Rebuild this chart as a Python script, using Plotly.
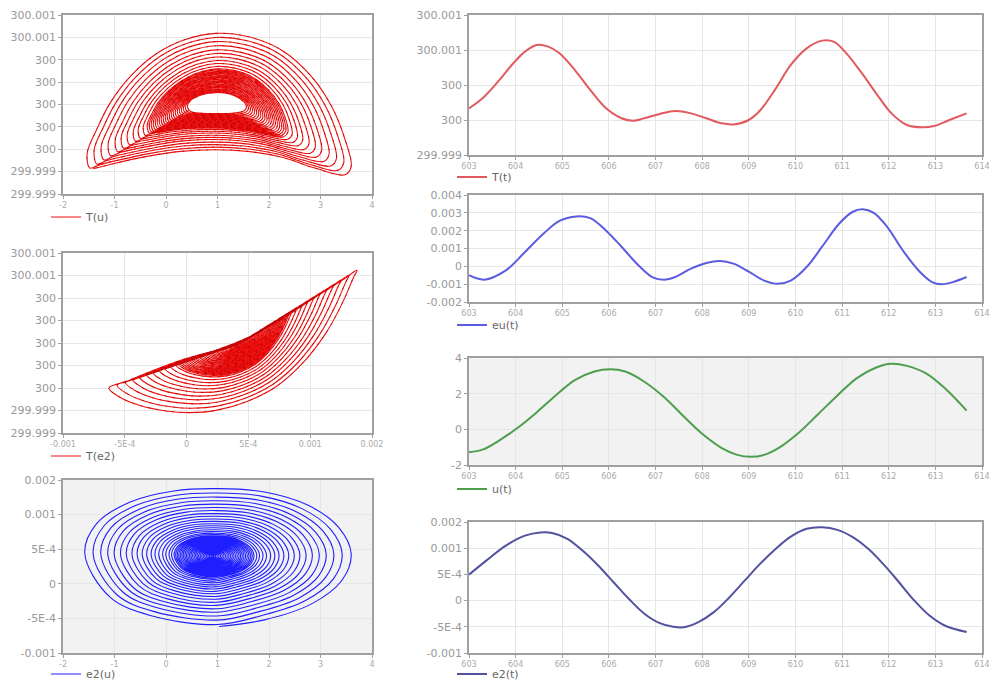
import plotly.graph_objects as go

W, H = 995, 682

# ---------------- time series ----------------
t_T = [603.0, 603.29, 603.62, 603.95, 604.2, 604.45, 604.7, 604.94, 605.27, 605.6, 605.94,
       606.27, 606.52, 606.76, 607.09, 607.42, 607.76, 608.09, 608.42, 608.67, 609.0, 609.25,
       609.58, 609.9, 610.24, 610.57, 610.82, 611.06, 611.4, 611.73, 612.06, 612.39, 612.72,
       612.97, 613.3, 613.67]
T_dev = [-0.000067, 0.000048, 0.000238, 0.000448, 0.000581, 0.000657, 0.000638, 0.000562,
         0.000371, 0.000143, -0.000067, -0.00018, -0.000208, -0.00018, -0.000131, -0.000097,
         -0.000124, -0.00018, -0.000238, -0.00025, -0.0002, -0.000086, 0.000162, 0.000429,
         0.000619, 0.000707, 0.000695, 0.000581, 0.000352, 0.000105, -0.000124, -0.000257,
         -0.000284, -0.000269, -0.0002, -0.000124]

t_eu = [603.0, 603.33, 603.79, 604.2, 604.6, 604.94, 605.3, 605.6, 605.94, 606.27, 606.6,
        606.93, 607.18, 607.42, 607.76, 608.09, 608.38, 608.67, 609.0, 609.33, 609.62, 609.9,
        610.24, 610.57, 610.94, 611.23, 611.44, 611.68, 611.97, 612.3, 612.64, 612.93, 613.13,
        613.38, 613.67]
eu = [-0.0005, -0.00075, -0.00023, 0.0008, 0.00184, 0.00255, 0.0028, 0.0027, 0.002, 0.0011,
      0.00015, -0.0006, -0.00075, -0.0006, -0.00013, 0.00019, 0.0003, 0.00015, -0.0003, -0.0008,
      -0.00098, -0.0008, -0.00004, 0.0011, 0.0024, 0.00306, 0.0032, 0.003, 0.0022, 0.0009,
      -0.00023, -0.00088, -0.001, -0.00088, -0.0006]

t_u = [603.0, 603.29, 603.62, 604.03, 604.45, 604.86, 605.27, 605.69, 606.02, 606.35, 606.76,
       607.18, 607.59, 608.0, 608.42, 608.75, 609.04, 609.33, 609.66, 610.07, 610.49, 610.9,
       611.31, 611.73, 612.06, 612.39, 612.8, 613.21, 613.67]
u = [-1.28, -1.14, -0.67, 0.06, 0.95, 1.9, 2.76, 3.24, 3.37, 3.24, 2.67, 1.81, 0.76, -0.25,
     -1.05, -1.43, -1.54, -1.43, -1.01, -0.19, 0.86, 1.9, 2.86, 3.47, 3.68, 3.56, 3.14, 2.29, 1.05]

t_e2 = [603.0, 603.37, 603.79, 604.2, 604.53, 604.78, 605.11, 605.44, 605.77, 606.1, 606.43,
        606.76, 607.09, 607.38, 607.59, 607.92, 608.25, 608.58, 608.91, 609.24, 609.58, 609.9,
        610.24, 610.57, 610.9, 611.23, 611.56, 611.89, 612.22, 612.55, 612.88, 613.21, 613.67]
e2 = [0.000496, 0.000763, 0.00105, 0.00124, 0.0013, 0.00129, 0.00118, 0.00095, 0.00067,
      0.00035, 0.00003, -0.00025, -0.00043, -0.0005, -0.00051, -0.00041, -0.00022, 0.00006,
      0.00038, 0.0007, 0.00099, 0.00122, 0.00137, 0.0014, 0.00135, 0.00121, 0.00099, 0.00069,
      0.00035, 0.0, -0.00029, -0.00048, -0.0006]

# ---------------- phase portraits ----------------
# T(u): outermost loop and innermost loop (edge of the hole), plus loop positions between them
Tu_outer_u = [-1.478, -1.53, -1.348, -1.087, -0.696, -0.174, 0.348, 0.967, 1.587, 2.239, 2.826,
              3.217, 3.478, 3.596, 3.478, 2.891, 2.239, 1.587, 0.967, 0.283, -0.37, -1.022, -1.413]
Tu_outer_T = [-0.000568, -0.000434, -0.000226, 0.000012, 0.00025, 0.000458, 0.000577, 0.000636,
              0.000607, 0.000488, 0.00025, -0.000018, -0.000315, -0.000553, -0.000628, -0.000568,
              -0.00047, -0.000419, -0.000404, -0.000419, -0.000464, -0.000529, -0.000574]
Tu_inner_u = [0.446, 0.413, 0.446, 0.511, 0.641, 0.804, 0.902, 1.0, 1.13, 1.293, 1.424, 1.522,
              1.561, 1.548, 1.489, 1.359, 1.196, 1.0, 0.804, 0.641, 0.543, 0.478, 0.452]
Tu_inner_T = [-0.0000476, -0.0000178, 0.0000178, 0.0000476, 0.0000773, 0.0000981, 0.000104,
              0.000107, 0.000104, 0.0000862, 0.0000565, 0.0000178, -0.0000178, -0.0000416,
              -0.0000625, -0.0000744, -0.0000803, -0.0000803, -0.0000803, -0.0000773, -0.0000714,
              -0.0000625, -0.0000535]
Tu_rings = [0.0, 0.02, 0.04, 0.06, 0.08, 0.10, 0.12, 0.14, 0.16, 0.18, 0.20, 0.22, 0.24, 0.26,
            0.28, 0.30, 0.32, 0.34, 0.36, 0.38, 0.40, 0.44, 0.49, 0.54, 0.60, 0.66, 0.72, 0.79,
            0.86, 0.93, 1.0]

# T(e2): outermost loop, centre and loop sizes
Te2_loop_e2 = [-0.000629, -0.000543, -0.000382, -0.000167, 0.000022, 0.000237, 0.000478, 0.00072,
               0.000935, 0.001124, 0.001258, 0.001352, 0.001379, 0.001258, 0.001043, 0.000774,
               0.000505, 0.000237, -0.000005, -0.000301, -0.000516]
Te2_loop_T = [-0.0004, -0.00048, -0.000554, -0.000604, -0.000619, -0.000599, -0.000524, -0.000391,
              -0.000184, 0.000083, 0.00035, 0.000587, 0.000646, 0.000557, 0.000409, 0.000216,
              0.000053, -0.000065, -0.000139, -0.000258, -0.000356]
Te2_center = (0.0004, -0.00002)
Te2_scales = [0.0, 0.015, 0.03, 0.045, 0.06, 0.075, 0.09, 0.105, 0.12, 0.135, 0.15, 0.165, 0.18,
              0.195, 0.21, 0.225, 0.24, 0.255, 0.27, 0.285, 0.30, 0.315, 0.33, 0.345, 0.36, 0.375,
              0.39, 0.405, 0.42, 0.435, 0.45, 0.47, 0.51, 0.555, 0.60, 0.65, 0.70, 0.755, 0.81,
              0.87, 0.935, 1.0]

# e2(u): outermost loop, centre and loop sizes; the spiral ends at e2u_end
e2u_loop_u = [1.0, -0.304, -1.087, -1.576, -1.348, -0.696, 0.152, 1.0, 1.913, 2.761, 3.348,
              3.596, 3.413, 2.826, 1.913]
e2u_loop_e2 = [-0.000589, -0.000458, -0.000193, 0.000434, 0.000869, 0.001182, 0.001342,
               0.001375, 0.001327, 0.001134, 0.00082, 0.000434, 0.000048, -0.00029, -0.000521]
e2u_end = (1.033, -0.000618)
e2u_center = (0.9, 0.0004)
e2u_scales = [0.0, 0.012, 0.024, 0.036, 0.048, 0.06, 0.072, 0.084, 0.096, 0.108, 0.12, 0.132,
              0.144, 0.156, 0.168, 0.18, 0.192, 0.204, 0.216, 0.228, 0.24, 0.252, 0.264, 0.276,
              0.288, 0.30, 0.32, 0.34, 0.365, 0.39, 0.42, 0.45, 0.48, 0.515, 0.55, 0.59,
              0.63, 0.675, 0.72, 0.77, 0.82, 0.875, 0.935, 1.0]

# ---------------- tick labels ----------------
T_ticks9 = [-0.0008, -0.0006, -0.0004, -0.0002, 0, 0.0002, 0.0004, 0.0006, 0.0008]
T_ticks9_text = ["299.999", "299.999", "300", "300", "300", "300", "300", "300.001", "300.001"]
T_ticks5 = [-0.0006, -0.0002, 0.0002, 0.0006, 0.001]
T_ticks5_text = ["299.999", "300", "300", "300.001", "300.001"]
e_ticks = [-0.001, -0.0005, 0, 0.0005, 0.001, 0.0015]
e_ticks_text = ["-0.001", "-5E-4", "0", "5E-4", "0.001", "0.002"]
eu_ticks = [-0.002, -0.001, 0, 0.001, 0.002, 0.003, 0.004]
eu_ticks_text = ["-0.002", "-0.001", "0", "0.001", "0.002", "0.003", "0.004"]
u_ticks_x = [-2, -1, 0, 1, 2, 3, 4]
u_ticks_y = [-2, 0, 2, 4]
t_ticks = list(range(603, 615))


def scaled_loops(lx, ly, center, scales):
    cx, cy = center
    xs, ys = [], []
    for s in scales:
        for a, b in zip(lx, ly):
            xs.append(cx + s * (a - cx))
            ys.append(cy + s * (b - cy))
    return xs, ys


def blended_loops(ix, iy, ox, oy, weights):
    xs, ys = [], []
    for w in weights:
        for a, b, c, d in zip(ix, iy, ox, oy):
            xs.append(a + w * (c - a))
            ys.append(b + w * (d - b))
    return xs, ys


def px(x):
    return x / W


def py(y):
    return 1 - y / H


fig = go.Figure()

RED = "#f01010"
DARKRED = "#9a0000"
BLUE = "#1e1eff"

x1, y1 = blended_loops(Tu_inner_u, Tu_inner_T, Tu_outer_u, Tu_outer_T, Tu_rings)
x2, y2 = scaled_loops(Te2_loop_e2, Te2_loop_T, Te2_center, Te2_scales)
x3, y3 = scaled_loops(e2u_loop_u, e2u_loop_e2, e2u_center, e2u_scales)
x3.append(e2u_end[0])
y3.append(e2u_end[1])

for xs, ys, nm, ax, ay, lg in [(x1, y1, "T(u)", "x", "y", "legend"),
                                (x2, y2, "T(e2)", "x2", "y2", "legend2")]:
    fig.add_trace(go.Scatter(x=xs, y=ys, mode="lines", name=nm,
                             line=dict(color=RED, width=1.1, shape="spline"),
                             xaxis=ax, yaxis=ay, legend=lg))
    fig.add_trace(go.Scatter(x=xs, y=ys, mode="lines", name=nm, showlegend=False, hoverinfo="skip",
                             line=dict(color=DARKRED, width=1, dash="2px,6px", shape="spline"),
                             opacity=0.6, xaxis=ax, yaxis=ay))

fig.add_trace(go.Scatter(x=x3, y=y3, mode="lines", name="e2(u)", line=dict(color=BLUE, width=1.1, shape="spline"),
                         xaxis="x3", yaxis="y3", legend="legend3"))

fig.add_trace(go.Scatter(x=t_T, y=T_dev, mode="lines", name="T(t)", line=dict(color="#e05a60", width=2, shape="spline"),
                         xaxis="x4", yaxis="y4", legend="legend4"))
fig.add_trace(go.Scatter(x=t_eu, y=eu, mode="lines", name="eu(t)", line=dict(color="#5c5ce0", width=2, shape="spline"),
                         xaxis="x5", yaxis="y5", legend="legend5"))
fig.add_trace(go.Scatter(x=t_u, y=u, mode="lines", name="u(t)", line=dict(color="#4e9e4e", width=2, shape="spline"),
                         xaxis="x6", yaxis="y6", legend="legend6"))
fig.add_trace(go.Scatter(x=t_e2, y=e2, mode="lines", name="e2(t)", line=dict(color="#52529e", width=2, shape="spline"),
                         xaxis="x7", yaxis="y7", legend="legend7"))

FONT = "DejaVu Sans, Arial, sans-serif"
GRID = "#e6e6e6"
LINE = "#a0a0a0"


def xax(dom, rng, tv, tt, anchor):
    return dict(domain=[px(dom[0]), px(dom[1])], range=rng, tickvals=tv, ticktext=tt, anchor=anchor,
                showgrid=True, gridcolor=GRID, zeroline=False, showline=True, mirror=True,
                linecolor=LINE, linewidth=1.5, ticks="outside", ticklen=3, tickcolor=LINE,
                automargin=False, tickfont=dict(size=8, color="#aaaaaa", family=FONT))


def yax(dom, rng, tv, tt, anchor):
    return dict(domain=[py(dom[1]), py(dom[0])], range=rng, tickvals=tv, ticktext=tt, anchor=anchor,
                showgrid=True, gridcolor=GRID, zeroline=False, showline=True, mirror=True,
                linecolor=LINE, linewidth=1.5, ticks="outside", ticklen=3, tickcolor=LINE,
                automargin=False, tickfont=dict(size=11, color="#999999", family=FONT))


LX = (63, 372)
RX = (469, 982)
L1, L2, L3 = (15, 194), (253, 433), (480, 653)
R1, R2, R3, R4 = (15, 155), (195, 302), (358, 465), (522, 653)

layout = dict(
    width=W, height=H, margin=dict(l=0, r=0, t=0, b=0, autoexpand=False),
    paper_bgcolor="white", plot_bgcolor="white",
    font=dict(family=FONT, color="#777777"),
    xaxis=xax(LX, [-2, 4], u_ticks_x, [str(v) for v in u_ticks_x], "y"),
    yaxis=yax(L1, [-0.0008, 0.0008], T_ticks9, T_ticks9_text, "x"),
    xaxis2=xax(LX, [-0.001, 0.0015], e_ticks, e_ticks_text, "y2"),
    yaxis2=yax(L2, [-0.0008, 0.0008], T_ticks9, T_ticks9_text, "x2"),
    xaxis3=xax(LX, [-2, 4], u_ticks_x, [str(v) for v in u_ticks_x], "y3"),
    yaxis3=yax(L3, [-0.001, 0.0015], e_ticks, e_ticks_text, "x3"),
    xaxis4=xax(RX, [603, 614], t_ticks, [str(v) for v in t_ticks], "y4"),
    yaxis4=yax(R1, [-0.0006, 0.001], T_ticks5, T_ticks5_text, "x4"),
    xaxis5=xax(RX, [603, 614], t_ticks, [str(v) for v in t_ticks], "y5"),
    yaxis5=yax(R2, [-0.002, 0.004], eu_ticks, eu_ticks_text, "x5"),
    xaxis6=xax(RX, [603, 614], t_ticks, [str(v) for v in t_ticks], "y6"),
    yaxis6=yax(R3, [-2, 4], u_ticks_y, [str(v) for v in u_ticks_y], "x6"),
    xaxis7=xax(RX, [603, 614], t_ticks, [str(v) for v in t_ticks], "y7"),
    yaxis7=yax(R4, [-0.001, 0.0015], e_ticks, e_ticks_text, "x7"),
    shapes=[
        dict(type="rect", xref="x3 domain", yref="y3 domain", x0=0, x1=1, y0=0, y1=1,
             fillcolor="#f2f2f2", line=dict(width=0), layer="below"),
        dict(type="rect", xref="x6 domain", yref="y6 domain", x0=0, x1=1, y0=0, y1=1,
             fillcolor="#f2f2f2", line=dict(width=0), layer="below"),
    ],
)

legend_pos = {"legend": (46, 217), "legend2": (46, 456), "legend3": (46, 674),
              "legend4": (452, 177), "legend5": (452, 325), "legend6": (452, 489), "legend7": (452, 674)}
for k, (lx, ly) in legend_pos.items():
    layout[k] = dict(x=px(lx), y=py(ly), xanchor="left", yanchor="middle", bgcolor="rgba(0,0,0,0)",
                     font=dict(size=11, color="#666666", family=FONT), itemwidth=30,
                     borderwidth=0, tracegroupgap=0)

fig.update_layout(**layout)
fig.write_html("out.html", config={"displayModeBar": False})

# remove the browser's default page margin so the figure sits at the window's top-left corner
with open("out.html", encoding="utf-8") as f:
    html = f.read()
html = html.replace("<body>", '<body style="margin:0;padding:0;overflow:hidden">', 1)
with open("out.html", "w", encoding="utf-8") as f:
    f.write(html)
